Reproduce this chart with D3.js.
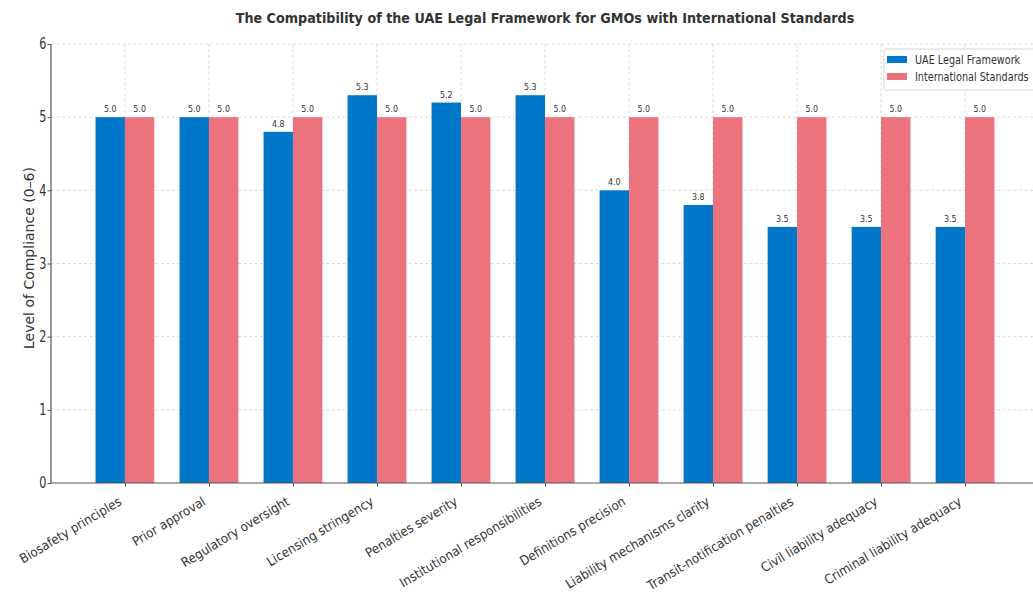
<!DOCTYPE html>
<html>
<head>
<meta charset="utf-8">
<script src="https://cdn.jsdelivr.net/npm/d3@7"></script>
<style>
  html, body { margin: 0; padding: 0; background: #fff; }
  svg { display: block; }
  text { font-family: "DejaVu Sans", sans-serif; fill: #333; }
</style>
</head>
<body>
<div id="chart"></div>
<script>
// Compliance scores per legal aspect
const categories = [
  "Biosafety principles",
  "Prior approval",
  "Regulatory oversight",
  "Licensing stringency",
  "Penalties severity",
  "Institutional responsibilities",
  "Definitions precision",
  "Liability mechanisms clarity",
  "Transit-notification penalties",
  "Civil liability adequacy",
  "Criminal liability adequacy"
];
const uaeValues = [5.0, 5.0, 4.8, 5.3, 5.2, 5.3, 4.0, 3.8, 3.5, 3.5, 3.5];
const intlValues = [5.0, 5.0, 5.0, 5.0, 5.0, 5.0, 5.0, 5.0, 5.0, 5.0, 5.0];
const seriesNames = ["UAE Legal Framework", "International Standards"];
const seriesColors = ["#0077c8", "#ec737d"];
const yTicks = [0, 1, 2, 3, 4, 5, 6];

const W = 1033, H = 592;
const plot = { left: 51, right: 1039, top: 44, bottom: 483 };
const barW = 0.35;
const condense = 0.88;   // horizontal narrowing of the lettering

// narrow a selection of texts along their baseline by a fixed factor
function narrow(sel, k = condense) {
  sel.each(function () {
    const len = this.getComputedTextLength();
    d3.select(this).attr("textLength", len * k).attr("lengthAdjust", "spacingAndGlyphs");
  });
}

const svg = d3.select("#chart").append("svg")
  .attr("width", W).attr("height", H);

// continuous x in category-index units
const x = d3.scaleLinear()
  .domain([-0.88, categories.length - 1 + 0.88])
  .range([plot.left, plot.right]);
const y = d3.scaleLinear().domain([0, 6]).range([plot.bottom, plot.top]);

const idx = d3.range(categories.length);

// grid
const grid = svg.append("g").attr("class", "grid");
grid.selectAll("line.h").data(yTicks.filter(d => d > 0)).join("line")
  .attr("x1", plot.left).attr("x2", plot.right)
  .attr("y1", d => y(d)).attr("y2", d => y(d))
  .attr("stroke", "#d2d2d2").attr("stroke-width", 0.8)
  .attr("stroke-dasharray", "3,2.5");
grid.selectAll("line.v").data(idx).join("line")
  .attr("x1", d => x(d)).attr("x2", d => x(d))
  .attr("y1", plot.top).attr("y2", plot.bottom)
  .attr("stroke", "#d2d2d2").attr("stroke-width", 0.8)
  .attr("stroke-dasharray", "3,2.5");

// bars and value labels
const series = [uaeValues, intlValues];
series.forEach((vals, s) => {
  const off = s === 0 ? -barW : 0;
  svg.append("g").selectAll("rect").data(idx).join("rect")
    .attr("x", i => x(i + off))
    .attr("width", x(barW) - x(0))
    .attr("y", i => y(vals[i]))
    .attr("height", i => y(0) - y(vals[i]))
    .attr("fill", seriesColors[s]);
  svg.append("g").selectAll("text").data(idx).join("text")
    .attr("x", i => x(i + off + barW / 2))
    .attr("y", i => y(vals[i]) - 5)
    .attr("text-anchor", "middle")
    .attr("font-size", 9)
    .attr("fill", "#444")
    .text(i => vals[i].toFixed(1))
    .call(narrow);
});

// axes
const yAxis = d3.axisLeft(y).tickValues(yTicks).tickFormat(d3.format("d"))
  .tickSize(3.5).tickPadding(1);
const gy = svg.append("g").attr("transform", `translate(${plot.left},0)`).call(yAxis);
gy.select(".domain").attr("d", `M0,${plot.top}V${plot.bottom}`)
  .attr("stroke", "#555").attr("stroke-width", 1.2);
gy.selectAll(".tick line").attr("stroke", "#555");
gy.selectAll("text").attr("font-size", 15).attr("fill", "#333")
  .attr("font-family", "DejaVu Sans, sans-serif")
  .call(narrow, 0.75);

const xAxis = d3.axisBottom(x).tickValues(idx).tickSize(3.5).tickFormat(i => categories[i]);
const gx = svg.append("g").attr("transform", `translate(0,${plot.bottom})`).call(xAxis);
gx.select(".domain").attr("d", `M${plot.left},0H${plot.right}`)
  .attr("stroke", "#555").attr("stroke-width", 1.2);
gx.selectAll(".tick line").attr("stroke", "#555");
gx.selectAll("text")
  .attr("font-size", 13).attr("fill", "#333")
  .attr("font-family", "DejaVu Sans, sans-serif")
  .attr("text-anchor", "end")
  .attr("dy", null)
  .attr("y", 0)
  .attr("transform", "translate(-3,21) rotate(-31)")
  .call(narrow, 0.91);

// y axis title
svg.append("text")
  .attr("transform", `translate(34,258) rotate(-90)`)
  .attr("text-anchor", "middle")
  .attr("font-size", 14)
  .text("Level of Compliance (0\u20136)");

// chart title
svg.append("text")
  .attr("x", 545).attr("y", 23)
  .attr("text-anchor", "middle")
  .attr("font-size", 14.5).attr("font-weight", "bold")
  .text("The Compatibility of the UAE Legal Framework for GMOs with International Standards")
  .call(narrow);

// legend
const lg = svg.append("g").attr("transform", "translate(884,49)");
lg.append("rect").attr("width", 160).attr("height", 41)
  .attr("fill", "#fff").attr("fill-opacity", 0.85)
  .attr("stroke", "#d6d6d6").attr("rx", 2);
seriesNames.forEach((name, s) => {
  lg.append("rect").attr("x", 3).attr("y", 7 + s * 17).attr("width", 20).attr("height", 7)
    .attr("fill", seriesColors[s]);
  lg.append("g").attr("transform", `translate(31,${15 + s * 17}) scale(0.84,1)`)
    .append("text").attr("font-size", 11.5).text(name);
});
</script>
</body>
</html>
